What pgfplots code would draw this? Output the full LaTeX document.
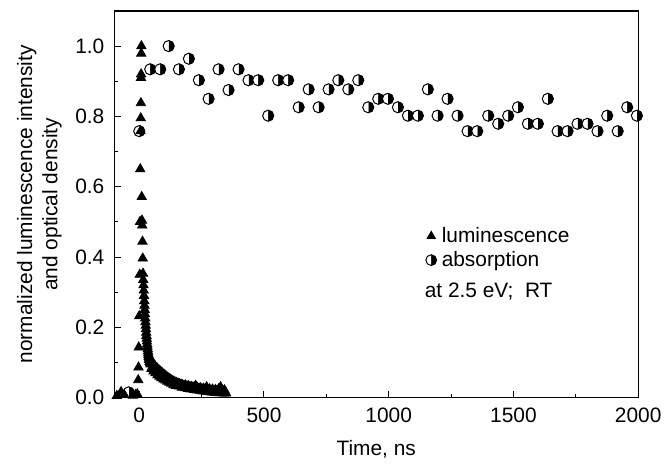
\documentclass[border=0pt]{standalone}
\usepackage{fontspec}
\setmainfont{Liberation Sans}
\usepackage{pgfplots}
\pgfplotsset{compat=1.18}
\usetikzlibrary{plotmarks}

\begin{document}
\begin{tikzpicture}[font=\fontsize{10.5}{12.6}\selectfont]
\begin{axis}[
  width=263.5pt, height=194.5pt, scale only axis,
  xmin=-100, xmax=2000, ymin=0, ymax=1.1,
  xtick={0,500,1000,1500,2000}, minor xtick={250,750,1250,1750},
  ytick={0,0.2,0.4,0.6,0.8,1.0}, minor ytick={0.1,0.3,0.5,0.7,0.9},
  tick align=inside, xtick pos=bottom, ytick pos=left,
  major tick length=3.5pt, minor tick length=2pt,
  axis line style={line width=0.6pt},
  every tick/.style={line width=0.5pt, black},
  /pgf/number format/assume math mode=true,
  /pgf/number format/1000 sep={},
  yticklabel style={xshift=-1.5pt, /pgf/number format/fixed, /pgf/number format/fixed zerofill, /pgf/number format/precision=1},
  xticklabel style={yshift=-1.5pt},
  xlabel={Time, ns},
  xlabel style={yshift=-2pt},
  ylabel={normalized luminescence intensity\\and optical density},
  ylabel style={align=center},
  legend style={draw=none, fill=none, at={(0.594,0.45)}, anchor=north west,
    font=\fontsize{10.5}{12.6}\selectfont, row sep=0pt, inner sep=0pt},
  legend cell align=left,
  legend image code/.code={\draw[#1] plot coordinates {(0pt,0pt)};},
  every axis legend/.append style={nodes={inner xsep=2.6pt, inner ysep=1.5pt}},
]
\addlegendimage{only marks, mark=triangle*, mark size=2.4pt, black, fill=black}
\addlegendentry{luminescence}
\addlegendimage{only marks, mark=halfcircle*, mark size=2.7pt, black, mark options={rotate=-90, fill=black, line width=0.5pt}}
\addlegendentry{absorption}

% absorption
\addplot[forget plot, only marks, mark=halfcircle*, mark size=2.8pt, black,
  mark options={rotate=-90, fill=black, line width=0.5pt}] coordinates {
(-42,0.015) (0,0.758) (44,0.934) (84,0.934) (118,1.0) (159,0.934) (199,0.964)
(239,0.903) (278,0.850) (318,0.934) (358,0.875) (398,0.934) (438,0.903)
(477,0.903) (517,0.802) (557,0.903) (597,0.903) (639,0.826) (679,0.877)
(719,0.826) (759,0.877) (798,0.903) (838,0.877) (878,0.903) (918,0.826)
(958,0.850) (997,0.850) (1037,0.826) (1077,0.802) (1117,0.802) (1157,0.877)
(1196,0.802) (1236,0.850) (1276,0.802) (1316,0.758) (1355,0.758) (1399,0.802)
(1439,0.779) (1479,0.802) (1518,0.826) (1558,0.779) (1598,0.779) (1638,0.850)
(1677,0.758) (1717,0.758) (1757,0.779) (1797,0.779) (1837,0.758) (1876,0.802)
(1918,0.758) (1956,0.826) (1995,0.802)
};

% luminescence
\addplot[forget plot, only marks, mark=triangle*, mark size=2.7pt, black, fill=black] coordinates {
(-90,0.005) (-73,0.016) (-60,0.008) (-25,0.006) (-15,0.008) (-8,0.010)
(-4,0.050) (-3,0.086) (-2,0.143) (0,0.232) (2,0.35) (3,0.50) (4,0.65)
(5,0.758) (6,0.795) (6.5,0.838) (7,0.91) (7.5,0.92) (8,0.979) (8.5,1.0)
(10,0.571) (11,0.504) (12,0.49) (13,0.444) (14,0.396) (15,0.353) (16,0.335)
(17,0.320) (18,0.305) (19,0.290) (20,0.275) (21,0.262) (22,0.250) (23,0.238)
(24,0.226) (25,0.215) (26,0.205) (27,0.195) (28,0.185) (29,0.176) (30,0.168)
(31,0.160) (32,0.152) (33,0.145) (34,0.138) (35,0.132) (36,0.126) (37,0.121)
(38,0.116) (39,0.111) (40,0.107) (42,0.102) (44,0.098) (46,0.095)
(48,0.104) (49,0.082) (51,0.097) (53,0.088) (55,0.099) (57,0.075) (59,0.092)
(61,0.083) (63,0.090) (65,0.070) (67,0.085) (69,0.078) (71,0.084) (73,0.064)
(75,0.080) (77,0.072) (79,0.078) (81,0.060) (83,0.076) (85,0.066) (87,0.072)
(89,0.056) (91,0.071) (93,0.062) (95,0.067) (97,0.052) (99,0.066) (101,0.057)
(103,0.063) (105,0.049) (107,0.061) (109,0.053) (111,0.058) (113,0.046)
(115,0.057) (117,0.050) (119,0.054) (121,0.043) (123,0.053) (125,0.046)
(127,0.050) (129,0.040) (131,0.049) (133,0.043) (135,0.046) (137,0.036)
(139,0.046) (141,0.040) (144,0.043) (147,0.034) (150,0.042) (153,0.037)
(156,0.040) (159,0.032) (162,0.039) (165,0.034) (168,0.037) (171,0.029)
(174,0.036) (177,0.032) (180,0.034) (183,0.027) (186,0.035) (189,0.030)
(192,0.032) (195,0.025) (198,0.033) (201,0.028) (204,0.030) (207,0.024)
(210,0.031) (213,0.027) (216,0.029) (219,0.022) (222,0.030) (225,0.025)
(226,0.034) (228,0.027) (231,0.021) (234,0.028) (237,0.024) (240,0.026)
(243,0.020) (246,0.027) (249,0.022) (252,0.024) (255,0.018) (258,0.026)
(261,0.021) (264,0.023) (267,0.017) (270,0.030) (273,0.020) (276,0.022)
(279,0.016) (282,0.024) (285,0.019) (288,0.021) (291,0.015) (294,0.023)
(297,0.018) (300,0.020) (303,0.014) (306,0.022) (309,0.017) (312,0.019)
(315,0.013) (318,0.024) (321,0.016) (324,0.018) (326,0.030) (327,0.013)
(330,0.022) (333,0.016) (336,0.019) (339,0.012) (342,0.021) (345,0.015)
(348,0.012)
};

\node[anchor=west, inner sep=0pt] at (axis description cs:0.592,0.275) {at 2.5 eV;\ \ RT};

\coordinate (bl) at (rel axis cs:-0.2182,-0.1568);
\coordinate (tr) at (rel axis cs:1.0493,1.0283);
\end{axis}
\path (bl) rectangle (tr);
\end{tikzpicture}
\end{document}
